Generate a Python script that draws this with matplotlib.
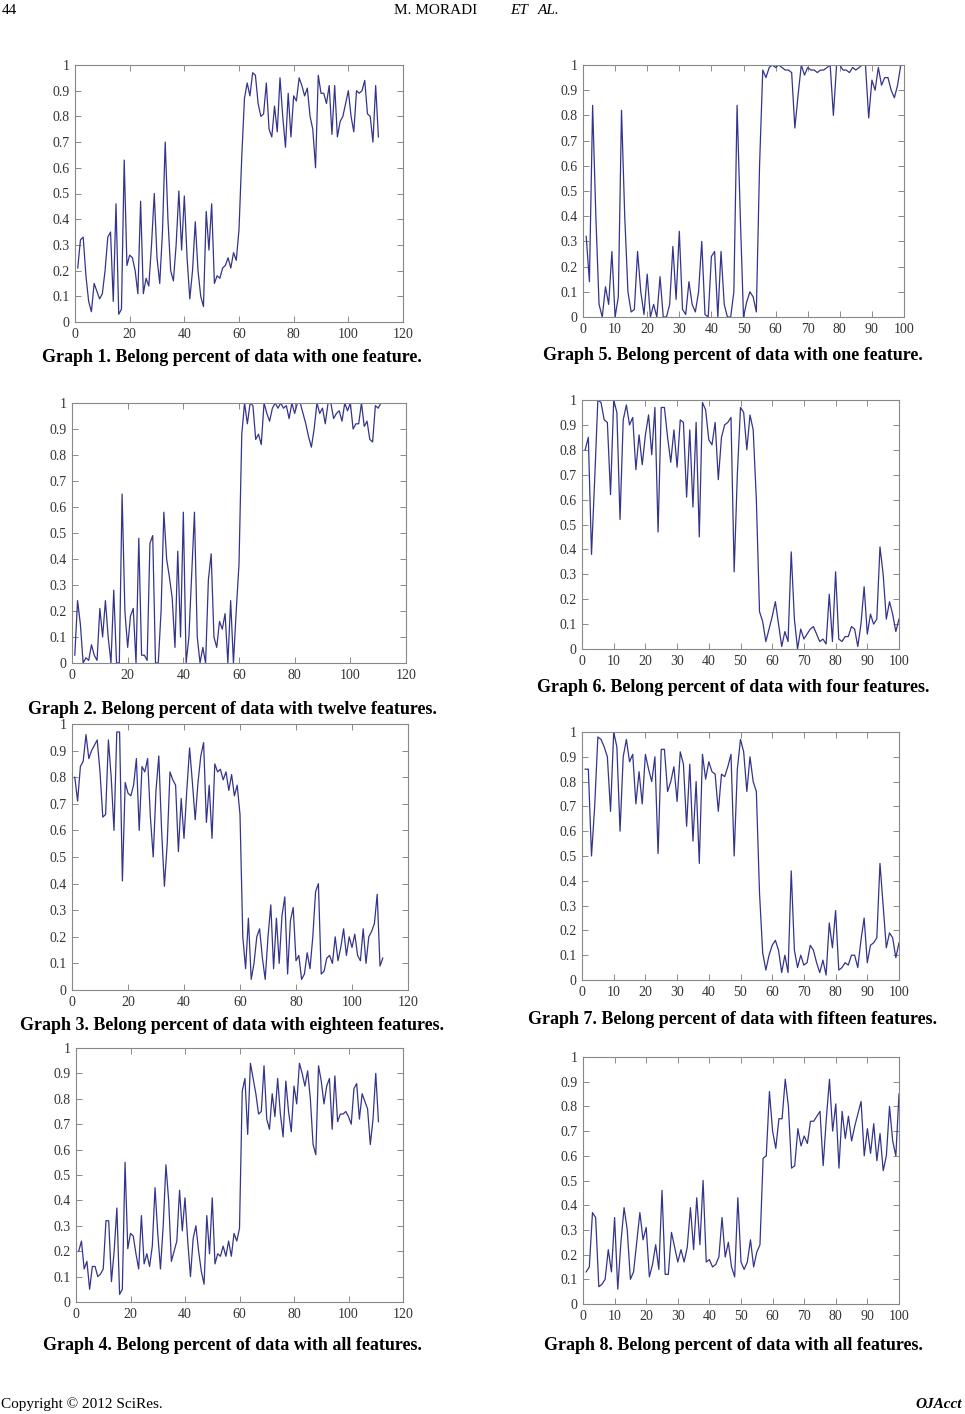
import numpy as np
from matplotlib import pyplot as plt

plt.rcParams['font.family'] = ['Liberation Serif', 'DejaVu Serif']

# ---- data ----
g1 = [0.21, 0.32, 0.33, 0.18, 0.08, 0.04, 0.15, 0.12, 0.09, 0.11,
      0.20, 0.33, 0.35, 0.08, 0.46, 0.03, 0.05, 0.63, 0.22, 0.26,
      0.25, 0.20, 0.11, 0.47, 0.11, 0.17, 0.14, 0.30, 0.50, 0.25,
      0.15, 0.35, 0.70, 0.40, 0.20, 0.16, 0.30, 0.51, 0.28, 0.49,
      0.25, 0.09, 0.20, 0.39, 0.20, 0.10, 0.06, 0.43, 0.28, 0.46,
      0.15, 0.18, 0.17, 0.21, 0.22, 0.25, 0.21, 0.27, 0.24, 0.36,
      0.64, 0.87, 0.93, 0.88, 0.97, 0.96, 0.85, 0.80, 0.81, 0.93,
      0.75, 0.72, 0.84, 0.74, 0.95, 0.80, 0.68, 0.89, 0.72, 0.88,
      0.86, 0.95, 0.92, 0.88, 0.91, 0.80, 0.75, 0.60, 0.96, 0.89,
      0.89, 0.85, 0.92, 0.73, 0.92, 0.72, 0.78, 0.80, 0.85, 0.90,
      0.80, 0.74, 0.90, 0.89, 0.90, 0.94, 0.81, 0.80, 0.70, 0.92, 0.72]

g2 = [0.03, 0.24, 0.15, 0.00, 0.02, 0.01, 0.07, 0.03, 0.01, 0.21,
      0.10, 0.24, 0.10, 0.00, 0.28, 0.00, 0.00, 0.65, 0.20, 0.06,
      0.18, 0.21, 0.00, 0.48, 0.03, 0.03, 0.01, 0.46, 0.49, 0.00,
      0.00, 0.20, 0.58, 0.40, 0.33, 0.25, 0.06, 0.43, 0.10, 0.58,
      0.00, 0.10, 0.34, 0.58, 0.10, 0.00, 0.06, 0.00, 0.32, 0.42,
      0.10, 0.06, 0.16, 0.13, 0.19, 0.00, 0.24, 0.00, 0.20, 0.38,
      0.88, 1.00, 0.92, 1.00, 0.99, 0.86, 0.88, 0.84, 1.00, 0.96,
      0.93, 0.98, 1.00, 0.98, 1.00, 0.98, 0.99, 0.94, 1.00, 0.96,
      1.00, 1.00, 0.96, 0.92, 0.87, 0.83, 0.90, 1.00, 0.96, 0.98,
      0.92, 1.00, 1.00, 0.94, 0.96, 0.97, 0.93, 1.00, 0.97, 1.00,
      0.90, 0.92, 0.92, 1.00, 0.91, 0.93, 0.86, 0.85, 0.99, 0.98, 1.00]

g3 = [0.80, 0.71, 0.84, 0.86, 0.96, 0.87, 0.90, 0.92, 0.94, 0.82,
      0.65, 0.66, 0.94, 0.80, 0.60, 0.97, 0.97, 0.41, 0.78, 0.74,
      0.73, 0.77, 0.87, 0.60, 0.84, 0.82, 0.87, 0.65, 0.50, 0.75,
      0.88, 0.60, 0.39, 0.55, 0.82, 0.79, 0.77, 0.52, 0.72, 0.57,
      0.75, 0.91, 0.78, 0.64, 0.78, 0.88, 0.93, 0.63, 0.77, 0.57,
      0.85, 0.82, 0.83, 0.79, 0.82, 0.75, 0.81, 0.73, 0.77, 0.66,
      0.20, 0.08, 0.27, 0.04, 0.10, 0.20, 0.23, 0.12, 0.04, 0.20,
      0.32, 0.08, 0.27, 0.10, 0.28, 0.35, 0.06, 0.26, 0.31, 0.11,
      0.13, 0.04, 0.06, 0.14, 0.08, 0.20, 0.37, 0.40, 0.06, 0.07,
      0.12, 0.13, 0.10, 0.20, 0.11, 0.16, 0.23, 0.13, 0.20, 0.16,
      0.21, 0.13, 0.11, 0.23, 0.10, 0.20, 0.22, 0.25, 0.36, 0.09, 0.12]

g4 = [0.20, 0.24, 0.13, 0.16, 0.05, 0.14, 0.14, 0.10, 0.11, 0.13,
      0.32, 0.32, 0.08, 0.20, 0.37, 0.03, 0.05, 0.55, 0.21, 0.27,
      0.26, 0.19, 0.13, 0.34, 0.15, 0.19, 0.14, 0.22, 0.45, 0.27,
      0.13, 0.30, 0.54, 0.40, 0.16, 0.20, 0.24, 0.44, 0.28, 0.41,
      0.24, 0.10, 0.25, 0.30, 0.20, 0.12, 0.07, 0.34, 0.19, 0.41,
      0.15, 0.19, 0.18, 0.22, 0.18, 0.24, 0.18, 0.27, 0.24, 0.29,
      0.83, 0.88, 0.66, 0.94, 0.88, 0.82, 0.74, 0.75, 0.93, 0.72,
      0.68, 0.82, 0.73, 0.88, 0.74, 0.65, 0.87, 0.75, 0.67, 0.85,
      0.78, 0.94, 0.90, 0.85, 0.91, 0.80, 0.62, 0.58, 0.93, 0.87,
      0.78, 0.85, 0.88, 0.68, 0.89, 0.71, 0.74, 0.74, 0.75, 0.73,
      0.70, 0.84, 0.86, 0.72, 0.82, 0.79, 0.76, 0.62, 0.72, 0.90, 0.71]

g5 = [0.32, 0.14, 0.84, 0.40, 0.05, 0.00, 0.12, 0.05, 0.26, 0.00,
      0.08, 0.82, 0.40, 0.10, 0.02, 0.03, 0.26, 0.10, 0.01, 0.17,
      0.00, 0.05, 0.00, 0.16, 0.00, 0.00, 0.05, 0.28, 0.07, 0.34,
      0.03, 0.01, 0.14, 0.05, 0.02, 0.10, 0.30, 0.01, 0.00, 0.24,
      0.26, 0.00, 0.26, 0.05, 0.00, 0.00, 0.10, 0.84, 0.40, 0.00,
      0.06, 0.10, 0.08, 0.02, 0.60, 0.98, 0.95, 0.99, 1.00, 0.99,
      1.00, 0.99, 0.98, 0.98, 0.97, 0.75, 0.88, 1.00, 0.96, 0.99,
      0.98, 0.98, 0.97, 0.98, 0.98, 0.99, 1.00, 0.80, 1.00, 1.00,
      0.98, 0.98, 0.97, 0.99, 0.98, 0.99, 1.00, 1.00, 0.79, 0.94,
      0.90, 0.99, 0.92, 0.95, 0.95, 0.90, 0.87, 0.92, 1.00, 1.00]

g6 = [0.80, 0.85, 0.38, 0.68, 1.00, 0.99, 0.92, 0.91, 0.62, 1.00,
      0.95, 0.52, 0.92, 0.98, 0.90, 0.93, 0.72, 0.86, 0.74, 0.86,
      0.94, 0.78, 0.97, 0.47, 0.97, 0.97, 0.85, 0.75, 0.88, 0.73,
      0.92, 0.91, 0.61, 0.88, 0.57, 0.91, 0.45, 0.99, 0.96, 0.84,
      0.82, 0.91, 0.68, 0.85, 0.90, 0.91, 0.93, 0.31, 0.70, 0.97,
      0.95, 0.80, 0.94, 0.88, 0.60, 0.15, 0.11, 0.03, 0.08, 0.13,
      0.19, 0.10, 0.01, 0.07, 0.03, 0.39, 0.12, 0.00, 0.08, 0.04,
      0.06, 0.08, 0.09, 0.06, 0.03, 0.04, 0.02, 0.22, 0.03, 0.31,
      0.04, 0.03, 0.05, 0.05, 0.09, 0.08, 0.01, 0.10, 0.25, 0.06,
      0.14, 0.10, 0.12, 0.41, 0.30, 0.12, 0.19, 0.14, 0.07, 0.12]

g7 = [0.85, 0.85, 0.50, 0.70, 0.98, 0.97, 0.94, 0.90, 0.68, 1.00,
      0.94, 0.60, 0.90, 0.97, 0.88, 0.91, 0.71, 0.84, 0.71, 0.91,
      0.85, 0.80, 0.90, 0.51, 0.93, 0.93, 0.76, 0.80, 0.86, 0.72,
      0.92, 0.87, 0.62, 0.87, 0.56, 0.80, 0.47, 0.91, 0.81, 0.88,
      0.84, 0.83, 0.68, 0.83, 0.82, 0.86, 0.91, 0.50, 0.85, 0.97,
      0.92, 0.76, 0.90, 0.80, 0.76, 0.35, 0.11, 0.04, 0.10, 0.14,
      0.16, 0.12, 0.03, 0.10, 0.03, 0.44, 0.12, 0.05, 0.10, 0.06,
      0.07, 0.14, 0.12, 0.07, 0.03, 0.08, 0.02, 0.23, 0.13, 0.28,
      0.04, 0.05, 0.07, 0.06, 0.10, 0.10, 0.05, 0.16, 0.25, 0.07,
      0.14, 0.15, 0.17, 0.47, 0.30, 0.13, 0.19, 0.17, 0.09, 0.15]

g8 = [0.13, 0.15, 0.37, 0.35, 0.07, 0.08, 0.10, 0.22, 0.13, 0.35,
      0.06, 0.25, 0.39, 0.30, 0.10, 0.13, 0.25, 0.37, 0.26, 0.31,
      0.11, 0.16, 0.24, 0.14, 0.46, 0.12, 0.12, 0.29, 0.23, 0.17,
      0.22, 0.17, 0.23, 0.39, 0.22, 0.43, 0.24, 0.50, 0.17, 0.18,
      0.15, 0.16, 0.19, 0.35, 0.19, 0.25, 0.15, 0.11, 0.43, 0.17,
      0.14, 0.17, 0.26, 0.15, 0.21, 0.24, 0.59, 0.60, 0.86, 0.70,
      0.63, 0.75, 0.75, 0.91, 0.80, 0.55, 0.56, 0.71, 0.64, 0.68,
      0.65, 0.74, 0.74, 0.76, 0.78, 0.56, 0.75, 0.91, 0.70, 0.81,
      0.55, 0.78, 0.67, 0.76, 0.66, 0.72, 0.77, 0.82, 0.60, 0.71,
      0.61, 0.73, 0.58, 0.69, 0.54, 0.60, 0.80, 0.66, 0.60, 0.85]

captions = [
    "Graph 1. Belong percent of data with one feature.",
    "Graph 2. Belong percent of data with twelve features.",
    "Graph 3. Belong percent of data with eighteen features.",
    "Graph 4. Belong percent of data with all features.",
    "Graph 5. Belong percent of data with one feature.",
    "Graph 6. Belong percent of data with four features.",
    "Graph 7. Belong percent of data with fifteen features.",
    "Graph 8. Belong percent of data with all features.",
]

W, H = 965, 1414
fig = plt.figure(figsize=(W / 100, H / 100), dpi=100)

# (left, top, right, bottom) in pixels, caption y, xmax
panels = [
    (g1, (75, 65, 403, 322), 357, 120),
    (g2, (72, 403, 406, 663), 709, 120),
    (g3, (72, 724, 408, 990), 1026, 120),
    (g4, (76, 1048, 403, 1302), 1345, 120),
    (g5, (583, 65, 904, 317), 355, 100),
    (g6, (582, 400, 899, 649), 688, 100),
    (g7, (582, 732, 899, 980), 1020, 100),
    (g8, (583, 1057, 899, 1304), 1345, 100),
]

for k, (vals, (l, t, r, b), cy, xmax) in enumerate(panels):
    ax = fig.add_axes([l / W, 1 - b / H, (r - l) / W, (b - t) / H])
    x = np.arange(1, len(vals) + 1)
    ax.plot(x, vals, color='#34348c', lw=0.9)
    ax.set_xlim(0, xmax)
    ax.set_ylim(0, 1)
    ax.set_xticks(np.arange(0, xmax + 1, 20 if xmax == 120 else 10))
    yt = np.round(np.arange(0, 1.01, 0.1), 1)
    ax.set_yticks(yt)
    ax.set_yticklabels(['0'] + ['%.1f' % v for v in yt[1:-1]] + ['1'])
    ax.tick_params(direction='in', length=4, width=0.6, color='#777777',
                   labelsize=10, top=True, right=True, pad=4, labelcolor='#333333')
    for s in ax.spines.values():
        s.set_color('#888888')
        s.set_linewidth(0.8)
    cx = 232 if xmax == 120 else 733
    fig.text(cx / W, 1 - cy / H, captions[k], ha='center', va='center',
             fontsize=13, fontweight='bold')

# page header / footer
fig.text(2 / W, 1 - 11 / H, "44", ha='left', va='center', fontsize=11)
fig.text(394 / W, 1 - 11 / H, "M. MORADI", ha='left', va='center', fontsize=11)
fig.text(510 / W, 1 - 11 / H, "ET", ha='left', va='center', fontsize=11, style='italic')
fig.text(538 / W, 1 - 11 / H, "AL.", ha='left', va='center', fontsize=11, style='italic')
fig.text(1 / W, 1 - 1404 / H, "Copyright \u00a9 2012 SciRes.", ha='left', va='center', fontsize=11)
fig.text(962 / W, 1 - 1404 / H, "OJAcct", ha='right', va='center', fontsize=11,
         style='italic', fontweight='bold')

fig.savefig('out.png', dpi=100)
